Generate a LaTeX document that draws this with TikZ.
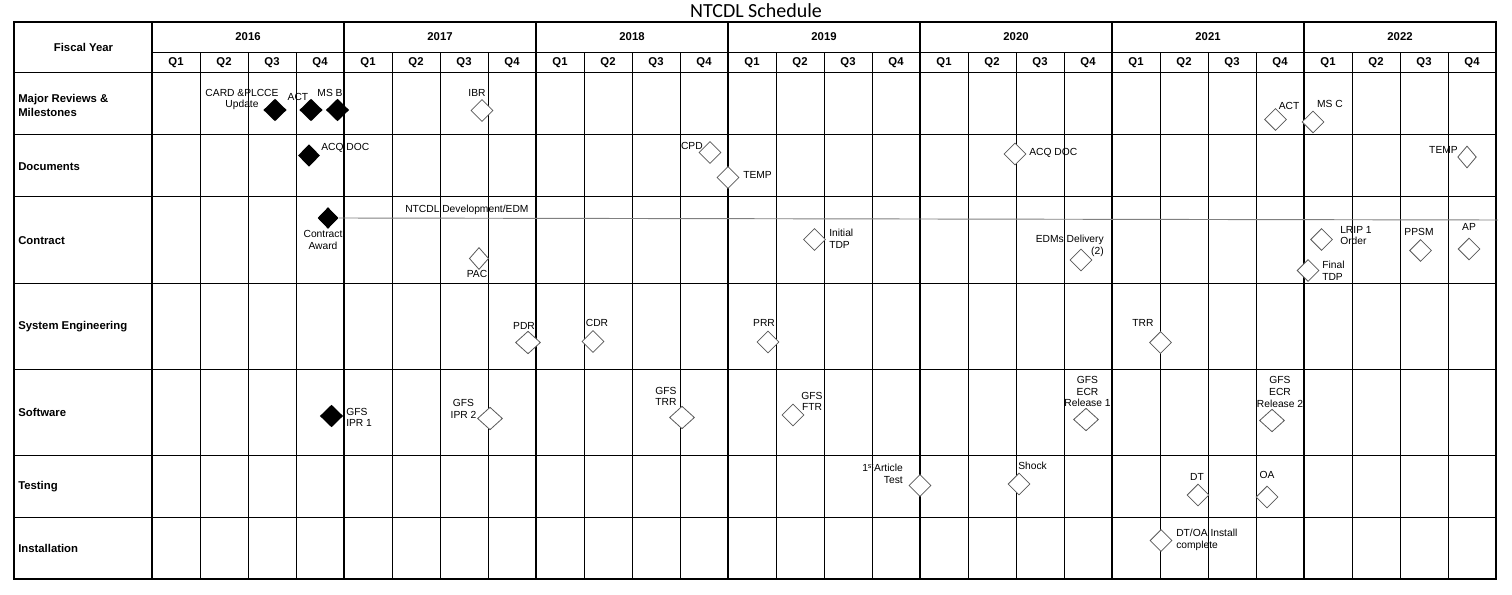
\documentclass[tikz,border=0pt]{standalone}
\usepackage{fontspec}
\setmainfont{Liberation Sans}
\newfontfamily\titlefont{Carlito}
\usetikzlibrary{shapes.geometric}
\begin{document}
\begin{tikzpicture}[x=0.75pt,y=-0.75pt,
  thinline/.style={line width=0.75pt},
  thickline/.style={line width=1.6pt},
  hdr/.style={font=\fontsize{8.5}{10.5}\selectfont\bfseries, inner sep=0},
  rowlab/.style={hdr, anchor=west, align=left},
  lab/.style={font=\fontsize{7.7}{8.8}\selectfont, inner sep=0, align=center},
  openms/.style={diamond, draw=black!65, line width=0.6pt, fill=white, inner sep=0, minimum width=16.5pt, minimum height=16.5pt},
  widems/.style={openms, minimum width=18.75pt, minimum height=17pt},
  donems/.style={diamond, fill=black, inner sep=0, minimum width=17.5pt, minimum height=17pt},
  barline/.style={draw=black!50, line width=0.7pt}
]
\useasboundingbox (0,0) rectangle (1512,595);
\fill[white] (0,0) rectangle (1512,595);

% title
\node[font=\titlefont\fontsize{15}{17}\selectfont, inner sep=0] (title) at (756,11) {NTCDL Schedule};

% grid
\foreach \y in {73,135,197,283,369,455,517} \draw[thinline] (14,\y) -- (1496,\y);
\draw[thinline] (152,53) -- (1496,53);
\foreach \i in {1,...,27} \draw[thinline] ({152+48*\i},53) -- ({152+48*\i},579);
\foreach \i in {1,...,6} \draw[thickline] ({152+192*\i},22) -- ({152+192*\i},579);
\draw[thickline] (152,22) -- (152,579);
\draw[thickline] (14,22) rectangle (1496,579);

% header
\node[hdr] (fy) at (83.5,47) {Fiscal Year};
\foreach \yr [count=\i from 0] in {2016,...,2022}
  \node[hdr] (y\yr) at ({248+192*\i},37) {\yr};
\foreach \i in {0,...,27}{
  \pgfmathtruncatemacro\qn{mod(\i,4)+1}
  \node[hdr] (q\i) at ({176+48*\i},63) {Q\qn};
}

% row labels
\node[rowlab] (r1) at (18,105) {Major Reviews \&\\Milestones};
\node[rowlab] (r2) at (18,167) {Documents};
\node[rowlab] (r3) at (18,241) {Contract};
\node[rowlab] (r4) at (18,327) {System Engineering};
\node[rowlab] (r5) at (18,412) {Software};
\node[rowlab] (r6) at (18,487) {Testing};
\node[rowlab] (r7) at (18,548) {Installation};

% contract bar
\node[donems, minimum width=15.5pt, minimum height=16pt] (cad) at (328,218) {};
\coordinate (barend) at (1498,220);
\draw[barline] (cad.east) -- (barend);
\node[donems, minimum width=15.5pt, minimum height=16pt] at (328,218) {};

% Major reviews & milestones
\node[donems] (card) at (275,110) {};
\node[donems] (act1) at (311,110) {};
\node[donems] (msb) at (337.5,110) {};
\node[openms] (ibr) at (482,110.5) {};
\node[openms] (act2) at (1275.5,119.5) {};
\node[openms] (msc) at (1313,122) {};
\node[lab] (cardl) at (242,99.5) {CARD \&PLCCE\\Update};
\node[lab] (act1l) at (298,97) {ACT};
\node[lab] (msbl) at (330,93) {MS B};
\node[lab] (ibrl) at (477,92.5) {IBR};
\node[lab] (act2l) at (1289,106) {ACT};
\node[lab] (mscl) at (1330,104) {MS C};

% Documents
\node[donems, minimum width=16.5pt, minimum height=17pt] (acq1) at (309,155.5) {};
\node[openms] (cpd) at (710,152.5) {};
\node[openms] (temp1) at (728,177.5) {};
\node[openms] (acq2) at (1015,154) {};
\node[openms, minimum width=14pt] (temp2) at (1467,157) {};
\node[lab, anchor=west] (acq1l) at (321,148) {ACQ DOC};
\node[lab, anchor=east] (cpdl) at (703,146) {CPD};
\node[lab, anchor=west] (temp1l) at (743,175) {TEMP};
\node[lab, anchor=west] (acq2l) at (1029,153) {ACQ DOC};
\node[lab, anchor=east] (temp2l) at (1458,150) {TEMP};

% Contract
\node[openms, minimum width=14.5pt] (pac) at (479,258.5) {};
\node[openms] (itdp) at (814.5,239.5) {};
\node[openms] (edm) at (1081,260) {};
\node[openms] (lrip) at (1321.5,239.5) {};
\node[openms] (ftdp) at (1308,270.5) {};
\node[openms] (ppsm) at (1420.5,250.5) {};
\node[openms] (ap) at (1469,249) {};
\node[lab] (cal) at (323,240) {Contract\\Award};
\node[lab, anchor=west] (devl) at (405,210) {NTCDL Development/EDM};
\node[lab] (pacl) at (477,274) {PAC};
\node[lab, anchor=west, align=left] (itdpl) at (829,239) {Initial\\TDP};
\node[lab, anchor=east, align=right] (edml) at (1104,246) {EDMs Delivery\\(2)};
\node[lab, anchor=west, align=left] (lripl) at (1340,235.5) {LRIP 1\\Order};
\node[lab, anchor=west, align=left] (ftdpl) at (1322,270.5) {Final\\TDP};
\node[lab] (ppsml) at (1419,232) {PPSM};
\node[lab] (apl) at (1469,227) {AP};

% System engineering
\node[widems] (pdr) at (528,342.5) {};
\node[openms] (cdr) at (593,341.5) {};
\node[openms] (prr) at (768,342) {};
\node[openms] (trr) at (1160.5,342.5) {};
\node[lab] (pdrl) at (524,326) {PDR};
\node[lab] (cdrl) at (597,323) {CDR};
\node[lab] (prrl) at (764,323) {PRR};
\node[lab] (trrl) at (1143,323) {TRR};

% Software
\node[donems] (ipr1) at (331.5,416) {};
\node[widems] (ipr2) at (490,418.5) {};
\node[widems] (gtrr) at (682,417.5) {};
\node[openms] (ftr) at (793,415) {};
\node[widems] (ecr1) at (1086,419.5) {};
\node[widems] (ecr2) at (1272,420.5) {};
\node[lab, anchor=west, align=left] (ipr1l) at (346,417.5) {GFS\\IPR 1};
\node[lab] (ipr2l) at (463.5,409) {GFS\\IPR 2};
\node[lab] (gtrrl) at (666,396.5) {GFS\\TRR};
\node[lab] (ftrl) at (812,401.5) {GFS\\FTR};
\node[lab] (ecr1l) at (1087.5,391.5) {GFS\\ECR\\Release 1};
\node[lab] (ecr2l) at (1280,392) {GFS\\ECR\\Release 2};

% Testing
\node[openms] (art) at (920,485.5) {};
\node[openms] (shock) at (1019,484) {};
\node[openms] (dt) at (1198,495) {};
\node[openms] (oa) at (1267,497) {};
\node[lab, anchor=east, align=right] (artl) at (903,473.5) {1\textsuperscript{st}Article\\Test};
\node[lab, anchor=west] (shockl) at (1018,466) {Shock};
\node[lab] (dtl) at (1197,477) {DT};
\node[lab] (oal) at (1267,475) {OA};

% Installation
\node[openms] (inst) at (1161,540.5) {};
\node[lab, anchor=west, align=left] (instl) at (1176,540) {DT/OA Install\\complete};
\end{tikzpicture}
\end{document}
